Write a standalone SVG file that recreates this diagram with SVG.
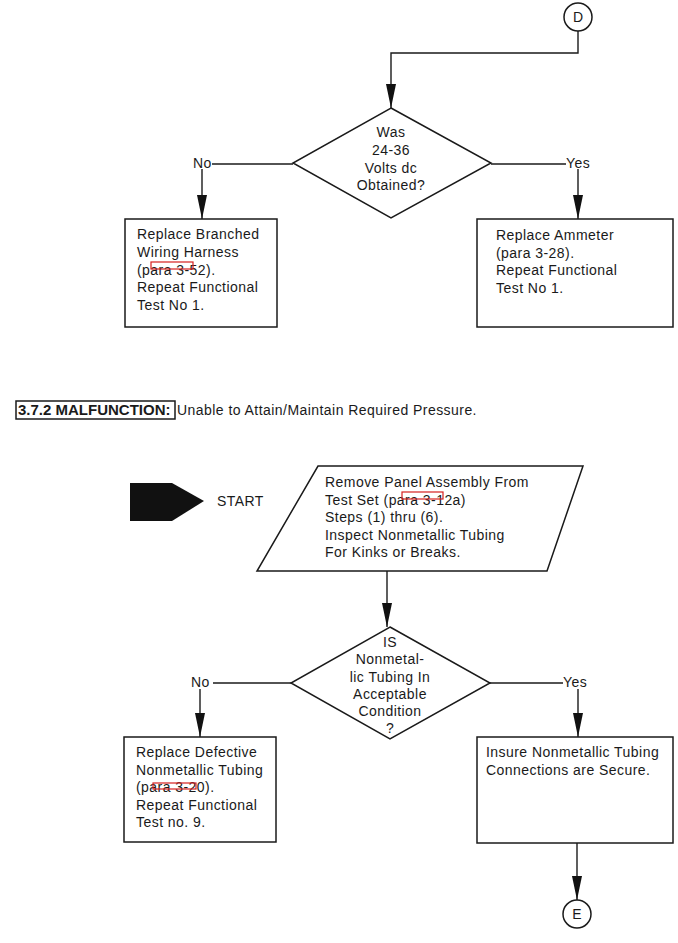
<svg xmlns="http://www.w3.org/2000/svg" width="678" height="943" viewBox="0 0 678 943">
<defs>
<marker id="ah" markerUnits="userSpaceOnUse" markerWidth="26" markerHeight="12" refX="24" refY="5" orient="auto">
<path d="M0,0 L24,5 L0,10 z" fill="#111"/>
</marker>
</defs>
<style>
text{font-family:"Liberation Sans",Arial,sans-serif;font-size:14px;fill:#1a1a1a;letter-spacing:0.45px}
.shape{fill:#fff;stroke:#1a1a1a;stroke-width:1.5}
.conn{fill:none;stroke:#1a1a1a;stroke-width:1.4}
.red{fill:none;stroke:#d62020;stroke-width:1.2}
.c{text-anchor:middle}
</style>
<rect width="678" height="943" fill="#fff"/>

<g id="connectors">
<path class="conn" d="M578,31 V53 H391 V108" marker-end="url(#ah)"/>
<path class="conn" d="M293,164 H212"/>
<path class="conn" d="M202,169 V219" marker-end="url(#ah)"/>
<path class="conn" d="M491,164 H566"/>
<path class="conn" d="M578,169 V219" marker-end="url(#ah)"/>
<path class="conn" d="M387,571 V627" marker-end="url(#ah)"/>
<path class="conn" d="M291,683 H213"/>
<path class="conn" d="M200,689 V737" marker-end="url(#ah)"/>
<path class="conn" d="M490,683 H563"/>
<path class="conn" d="M578,689 V737" marker-end="url(#ah)"/>
<path class="conn" d="M577,843 V900" marker-end="url(#ah)"/>
<text x="193" y="168">No</text>
<text x="566" y="168">Yes</text>
<text x="191" y="687">No</text>
<text x="563" y="687">Yes</text>
</g>

<g id="connD">
<circle class="shape" cx="578" cy="17" r="14"/>
<text class="c" x="578" y="22" style="letter-spacing:0">D</text>
</g>

<g id="decision1">
<polygon class="shape" points="391,108 491,163 391,218 293,163"/>
<text class="c" x="391" y="137">Was</text>
<text class="c" x="391" y="155">24-36</text>
<text class="c" x="391" y="173">Volts dc</text>
<text class="c" x="391" y="190">Obtained?</text>
</g>

<g id="box-harness">
<rect class="shape" x="125" y="219" width="152" height="108"/>
<text x="137" y="239">Replace Branched</text>
<text x="137" y="257">Wiring Harness</text>
<text x="137" y="274.5">(para 3-52).</text>
<text x="137" y="292">Repeat Functional</text>
<text x="137" y="309.5">Test No 1.</text>
<rect class="red" x="151" y="262" width="42" height="7"/>
</g>

<g id="box-ammeter">
<rect class="shape" x="477" y="219" width="196" height="108"/>
<text x="496" y="240">Replace Ammeter</text>
<text x="496" y="257.5">(para 3-28).</text>
<text x="496" y="275">Repeat Functional</text>
<text x="496" y="292.5">Test No 1.</text>
</g>

<g id="heading">
<rect x="16" y="401" width="159" height="18" fill="none" stroke="#1a1a1a" stroke-width="1.5"/>
<text x="18" y="415" style="font-weight:bold;font-size:15px;letter-spacing:0">3.7.2 MALFUNCTION:</text>
<text x="177" y="415">Unable to Attain/Maintain Required Pressure.</text>
</g>

<g id="start">
<polygon points="130,483 172,483 204,501 172,521 130,521" fill="#111"/>
<text x="217" y="506">START</text>
</g>

<g id="io-remove">
<polygon class="shape" points="318,466 583,466 547,571 257,571"/>
<text x="325" y="487">Remove Panel Assembly From</text>
<text x="325" y="504.5">Test Set (para 3-12a)</text>
<text x="325" y="522">Steps (1) thru (6).</text>
<text x="325" y="539.5">Inspect Nonmetallic Tubing</text>
<text x="325" y="557">For Kinks or Breaks.</text>
<rect class="red" x="402" y="492" width="41" height="7"/>
</g>

<g id="decision2">
<polygon class="shape" points="390,627 490,683 390,739 291,683"/>
<text class="c" x="390" y="647">IS</text>
<text class="c" x="390" y="664">Nonmetal-</text>
<text class="c" x="390" y="682">lic Tubing In</text>
<text class="c" x="390" y="699">Acceptable</text>
<text class="c" x="390" y="716">Condition</text>
<text class="c" x="390" y="733">?</text>
</g>

<g id="box-tubing">
<rect class="shape" x="124" y="737" width="152" height="105"/>
<text x="136" y="757">Replace Defective</text>
<text x="136" y="774.5">Nonmetallic Tubing</text>
<text x="136" y="792">(para 3-20).</text>
<text x="136" y="809.5">Repeat Functional</text>
<text x="136" y="827">Test no. 9.</text>
<rect class="red" x="153" y="783" width="43" height="6"/>
</g>

<g id="box-secure">
<rect class="shape" x="477" y="737" width="196" height="106"/>
<text x="486" y="757">Insure Nonmetallic Tubing</text>
<text x="486" y="775">Connections are Secure.</text>
</g>

<g id="connE">
<circle class="shape" cx="577" cy="914" r="14"/>
<text class="c" x="577" y="919" style="letter-spacing:0">E</text>
</g>
</svg>
